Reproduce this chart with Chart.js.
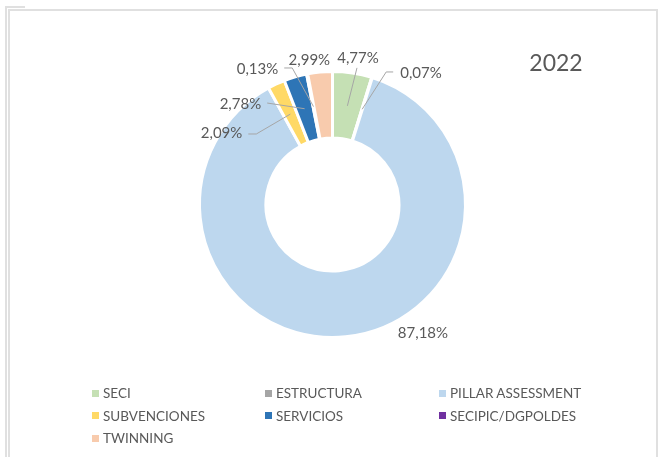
<!DOCTYPE html>
<html>
<head>
<meta charset="utf-8">
<script src="https://cdn.jsdelivr.net/npm/chart.js@4.4.0/dist/chart.umd.min.js"></script>
<style>
  html, body { margin: 0; padding: 0; background: #fff; }
  body { width: 660px; height: 457px; position: relative; overflow: hidden; font-family: Lato, "Open Sans", sans-serif; }
  #frameOuter { position: absolute; left: 5px; top: 6px; width: 20px; height: 470px; border-left: 2px solid #e0e0e0; border-top: 2px solid #e0e0e0; box-sizing: border-box; }
  #frameOuterCover { position: absolute; left: 7px; top: 8px; width: 30px; height: 470px; background: #fff; }
  #frameInner { position: absolute; left: 8px; top: 9px; width: 650px; height: 470px; border: 2px solid #e0e0e0; box-sizing: border-box; }
  #chartWrap { position: absolute; left: 0; top: 0; width: 660px; height: 457px; }
  #title { position: absolute; left: 500px; width: 112px; top: 46px; text-align: center; font-size: 23px; line-height: 32px; color: #595959; }
  #legend { position: absolute; left: 92px; top: 382px; display: grid; grid-template-columns: 173px 174px 174px; grid-auto-rows: 22.5px; align-items: center; }
  .li { display: flex; align-items: center; font-size: 13.5px; color: #595959; white-space: nowrap; }
  .sw { width: 7px; height: 7px; margin-right: 4px; flex: none; }
</style>
</head>
<body>
<div id="frameOuter"></div>
<div id="frameOuterCover"></div>
<div id="frameInner"></div>
<div id="chartWrap"><canvas id="c" width="660" height="457"></canvas></div>
<div id="title"></div>
<div id="legend"></div>
<script>
// ---- data ----
const categories = ["SECI", "ESTRUCTURA", "PILLAR ASSESSMENT", "SUBVENCIONES", "SERVICIOS", "SECIPIC/DGPOLDES", "TWINNING"];
const values = [4.77, 0.07, 87.18, 2.09, 2.78, 0.13, 2.99];
const chartTitle = "2022";

// ---- styles ----
const colors = ["#c5e0b4", "#a5a5a5", "#bdd7ee", "#ffd966", "#2e75b6", "#7030a0", "#f8cbad"];
// label offsets (from ring mid-point of each slice) and leader-line styles
const labelOffsets = [[10.6, -48], [58.8, -36.3], [80.6, 29.7], [-68.8, 19.4], [-64.2, -4.7], [-56, -37.6], [-13.8, -45.2]];
const leaders = [
  { side: "bottom", yo: 10, xo: -1 },
  { side: "right", gap: 7, stub: 7, yo: -1 },
  null,
  { side: "left", gap: 6, stub: 8, yo: 0.5 },
  { side: "left", gap: 6, stub: 0, yo: -1 },
  { side: "left", gap: 6, stub: 8, yo: -1 },
  null
];

function fmt(v) { return v.toFixed(2).replace(".", ",") + "%"; }

const labelPlugin = {
  id: "pctLabels",
  afterDatasetsDraw(chart) {
    const ctx = chart.ctx;
    const meta = chart.getDatasetMeta(0);
    ctx.save();
    ctx.font = "15px Lato";
    ctx.textAlign = "center";
    ctx.textBaseline = "middle";
    meta.data.forEach((arc, i) => {
      const p = arc.getProps(["x", "y", "startAngle", "endAngle", "innerRadius", "outerRadius"], true);
      const a = (p.startAngle + p.endAngle) / 2;
      const r = (p.innerRadius + p.outerRadius) / 2;
      const ax = p.x + Math.cos(a) * r, ay = p.y + Math.sin(a) * r;
      const lx = ax + labelOffsets[i][0], ly = ay + labelOffsets[i][1];
      const text = fmt(values[i]);
      const w = ctx.measureText(text).width;
      const ld = leaders[i];
      if (ld) {
        ctx.strokeStyle = "#a6a6a6";
        ctx.lineWidth = 1;
        ctx.beginPath();
        if (ld.side === "bottom") {
          ctx.moveTo(lx + ld.xo, ly + ld.yo);
        } else if (ld.side === "left") {
          const sx = lx + w / 2 + ld.gap, sy = ly + ld.yo;
          ctx.moveTo(sx, sy);
          ctx.lineTo(sx + ld.stub, sy);
        } else {
          const sx = lx - w / 2 - ld.gap, sy = ly + ld.yo;
          ctx.moveTo(sx, sy);
          ctx.lineTo(sx - ld.stub, sy);
        }
        ctx.lineTo(ax, ay);
        ctx.stroke();
      }
      ctx.fillStyle = "#595959";
      ctx.fillText(text, lx, ly);
    });
    ctx.restore();
  }
};

new Chart(document.getElementById("c"), {
  type: "doughnut",
  data: {
    labels: categories,
    datasets: [{
      data: values,
      backgroundColor: colors,
      borderColor: "#ffffff",
      borderWidth: 3,
      hoverOffset: 0
    }]
  },
  options: {
    responsive: false,
    devicePixelRatio: 1,
    animation: false,
    cutout: "50%",
    layout: { padding: { left: 198, top: 70, right: 193, bottom: 118 } },
    plugins: { legend: { display: false }, tooltip: { enabled: false }, title: { display: false } },
    events: []
  },
  plugins: [labelPlugin]
});

document.getElementById("title").textContent = chartTitle;
const lg = document.getElementById("legend");
categories.forEach((c, i) => {
  const d = document.createElement("div");
  d.className = "li";
  const s = document.createElement("span");
  s.className = "sw";
  s.style.background = colors[i];
  const t = document.createElement("span");
  t.textContent = c;
  d.appendChild(s); d.appendChild(t);
  lg.appendChild(d);
});
</script>
</body>
</html>
